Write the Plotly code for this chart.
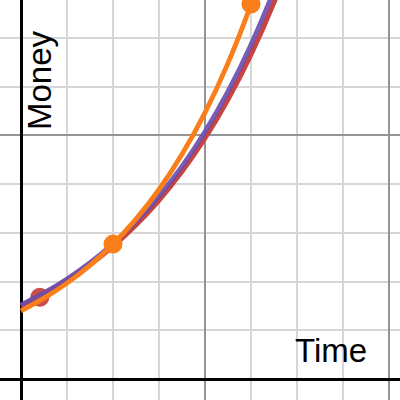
import plotly.graph_objects as go

# Values (x in minor-grid units, y in minor-grid units)
curve_x = [0, 0.5, 1, 1.5, 2, 2.5, 3, 3.5, 4, 4.5, 5, 5.5, 6]
red_y = [1.50, 1.741, 2.021, 2.346, 2.723, 3.161, 3.669, 4.258, 4.943, 5.738, 6.660, 7.730, 8.973]
purple_y = [1.52, 1.767, 2.055, 2.389, 2.778, 3.231, 3.756, 4.367, 5.078, 5.904, 6.865, 7.982, 9.281]
orange_y = [1.40, 1.660, 1.968, 2.334, 2.768, 3.282, 3.891, 4.614, 5.471, 6.487, 7.692, 9.121, 10.81]

red_pt_x = [0.41]
red_pt_y = [1.68]
orange_pt_x = [2.0, 5.0]
orange_pt_y = [2.77, 7.70]

RED = "#c74440"
PURPLE = "#6a4cad"
ORANGE = "#fa7e19"

fig = go.Figure()
fig.add_trace(go.Scatter(x=red_pt_x, y=red_pt_y, mode="markers",
                         marker=dict(color=RED, size=19, line=dict(width=0)), opacity=0.95))
fig.add_trace(go.Scatter(x=curve_x, y=red_y, mode="lines", line=dict(color=RED, width=4.8, shape="spline")))
fig.add_trace(go.Scatter(x=curve_x, y=purple_y, mode="lines", line=dict(color=PURPLE, width=4.8, shape="spline"), opacity=0.9))
fig.add_trace(go.Scatter(x=curve_x, y=orange_y, mode="lines", line=dict(color=ORANGE, width=4.8, shape="spline")))
fig.add_trace(go.Scatter(x=orange_pt_x, y=orange_pt_y, mode="markers",
                         marker=dict(color=ORANGE, size=19, line=dict(width=0))))

minor_grid = dict(dtick=1, tick0=0, showgrid=True, gridcolor="#d6d6d6", gridwidth=1.6, ticks="")
fig.update_layout(
    width=400, height=400,
    margin=dict(l=0, r=0, t=0, b=0),
    paper_bgcolor="white", plot_bgcolor="white",
    showlegend=False,
    xaxis=dict(range=[-0.4565, 8.239], dtick=4, tick0=0, showgrid=True, gridcolor="#959595", gridwidth=2,
               zeroline=True, zerolinecolor="black", zerolinewidth=3, showticklabels=False,
               minor=minor_grid, fixedrange=True),
    yaxis=dict(range=[-0.431, 7.782], dtick=5, tick0=0, showgrid=True, gridcolor="#959595", gridwidth=2,
               zeroline=True, zerolinecolor="black", zerolinewidth=3, showticklabels=False,
               minor=minor_grid, fixedrange=True),
    font=dict(family="Liberation Sans, Arial, sans-serif", color="black"),
)

fig.add_annotation(text="Time", xref="paper", yref="paper", x=331/400, y=1-350/400,
                   xanchor="center", yanchor="middle", showarrow=False,
                   font=dict(size=33, color="black", family="Liberation Sans, Arial, sans-serif"))
fig.add_annotation(text="Money", xref="paper", yref="paper", x=40/400, y=1-80/400,
                   xanchor="center", yanchor="middle", showarrow=False, textangle=-90,
                   font=dict(size=33, color="black", family="Liberation Sans, Arial, sans-serif"))

fig.write_html("out.html", config={"displayModeBar": False},
               post_script="document.body.style.margin='0';document.body.style.overflow='hidden';")
